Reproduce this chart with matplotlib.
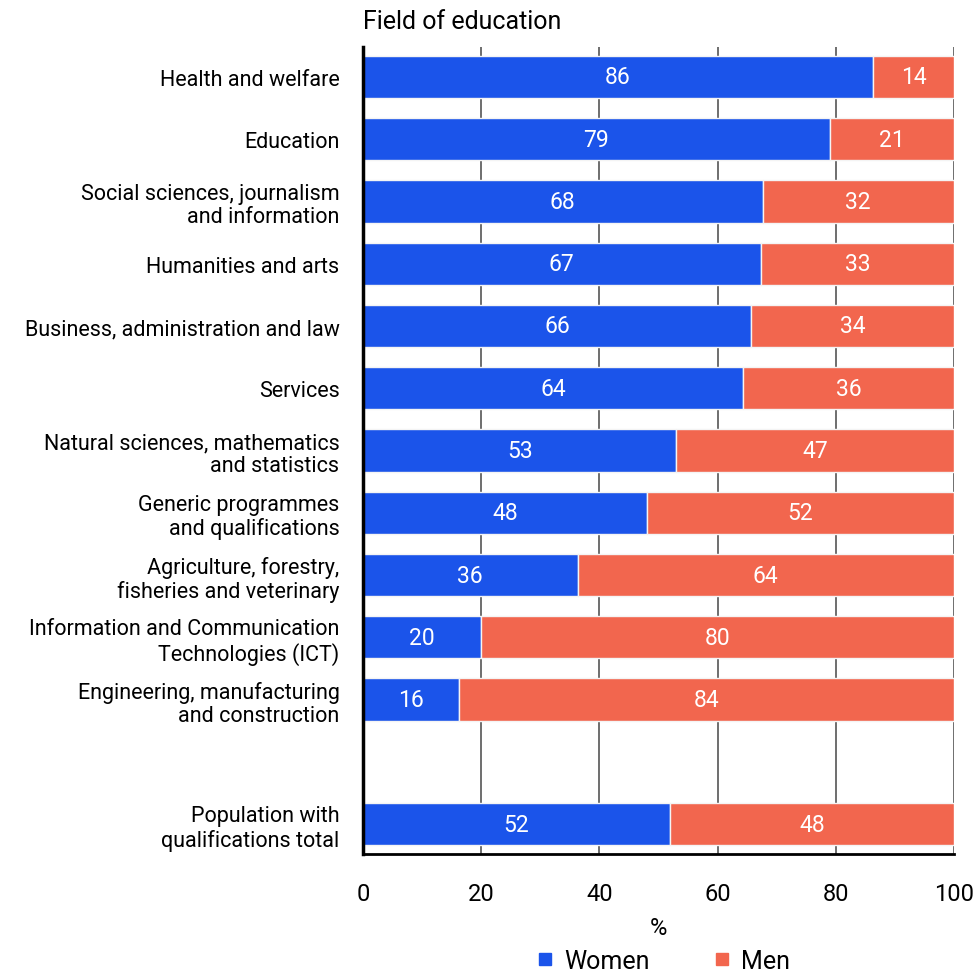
import matplotlib.pyplot as plt
from matplotlib.lines import Line2D

plt.rcParams['font.family'] = ['Roboto', 'DejaVu Sans']

fields = [
    "Health and welfare",
    "Education",
    "Social sciences, journalism\nand information",
    "Humanities and arts",
    "Business, administration and law",
    "Services",
    "Natural sciences, mathematics\nand statistics",
    "Generic programmes\nand qualifications",
    "Agriculture, forestry,\nfisheries and veterinary",
    "Information and Communication\nTechnologies (ICT)",
    "Engineering, manufacturing\nand construction",
    "Population with\nqualifications total",
]
women = [86.3, 79.0, 67.6, 67.3, 65.7, 64.3, 53.0, 48.1, 36.3, 19.9, 16.3, 51.9]
men = [13.7, 21.0, 32.4, 32.7, 34.3, 35.7, 47.0, 51.9, 63.7, 80.1, 83.7, 48.1]
# the total row sits one slot below the rest
ypos = list(range(11)) + [12]

blue = "#1b54ea"
red = "#f2664e"

fig = plt.figure(figsize=(9.77, 9.78), dpi=100)
ax = fig.add_axes([363 / 977, 1 - 855 / 978, 591 / 977, 807 / 978])

h = 0.68
ax.barh(ypos, women, height=h, color=blue, edgecolor="#f4f4f4", linewidth=1, zorder=3)
ax.barh(ypos, men, left=women, height=h, color=red, edgecolor="#f4f4f4", linewidth=1, zorder=3)

for y, w, m in zip(ypos, women, men):
    ax.text(w / 2, y, f"{w:.0f}", ha="center", va="center", color="white", fontsize=16.5, zorder=4)
    ax.text(w + m / 2, y, f"{m:.0f}", ha="center", va="center", color="white", fontsize=16.5, zorder=4)

ax.set_xlim(0, 100)
ax.set_ylim(12.48, -0.48)
ax.set_yticks(ypos)
ax.set_yticklabels(fields, fontsize=15.5, linespacing=1.15)
ax.set_xticks([0, 20, 40, 60, 80, 100])
ax.tick_params(axis="y", length=0, pad=17)
ax.tick_params(axis="x", length=0, pad=20, labelsize=17)
ax.grid(axis="x", color="#555555", linewidth=1.2, zorder=1)
ax.set_axisbelow(True)

for s in ["top", "right"]:
    ax.spines[s].set_visible(False)
ax.spines["left"].set_linewidth(2.5)
ax.spines["bottom"].set_linewidth(2)
ax.spines["left"].set_zorder(5)

ax.set_xlabel("%", fontsize=17, labelpad=8)
fig.text(363 / 977, 1 - 22 / 978, "Field of education", fontsize=18, va="center", ha="left")

handles = [
    Line2D([], [], marker="s", linestyle="none", color=blue, markersize=9),
    Line2D([], [], marker="s", linestyle="none", color=red, markersize=9),
]
fig.legend(handles, ["Women", "Men"], loc="center", bbox_to_anchor=(655 / 977, 1 - 962 / 978),
           ncol=2, frameon=False, fontsize=18, handletextpad=-0.25, columnspacing=1.9)

fig.savefig("out.png", dpi=100)
